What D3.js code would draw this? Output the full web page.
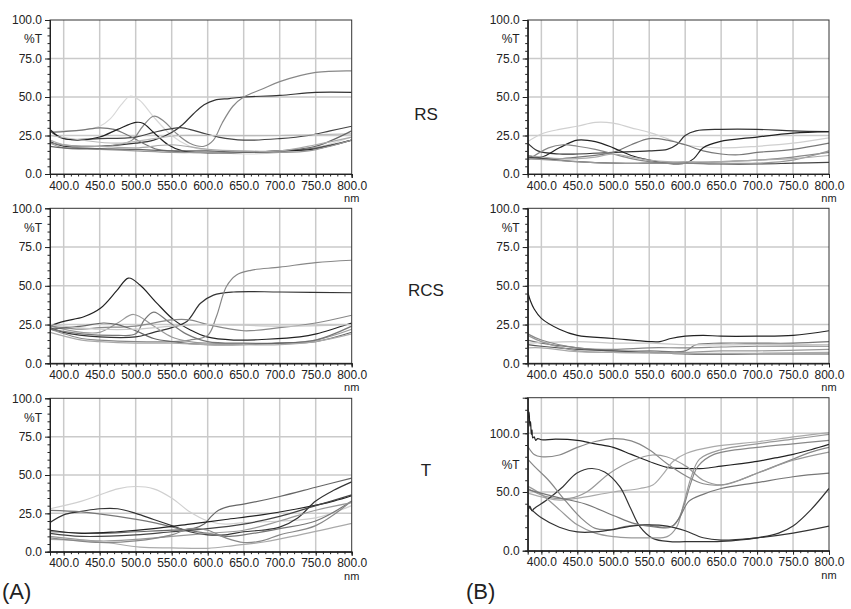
<!DOCTYPE html>
<html><head><meta charset="utf-8">
<script src="https://cdn.jsdelivr.net/npm/d3@7"></script>
<style>body{margin:0;background:#fff}svg{display:block}text{font-family:"Liberation Sans",Arial,sans-serif}</style>
</head><body>
<script>
// ---------- DATA (wavelength nm, %T) ----------
const xTicks = [400,450,500,550,600,650,700,750,800];
const yTicksStd = [0,25,50,75,100];
const yTicksTB = [0,50,100];
const rowLabels = ["RS","RCS","T"];
const panelLetters = ["(A)","(B)"];

const rsA = [
 [[381,27],[400,28],[425,28.5],[450,31],[465,36],[480,45],[492,50.5],[505,48],[525,37],[550,25],[575,18],[600,15],[650,13],[700,14],[750,17],[800,24]],
 [[381,21],[400,18],[450,18],[500,20],[525,22],[550,27],[565,32],[580,39],[595,45],[610,48],[630,49],[650,50],[700,51],[750,53],[800,53]],
 [[381,20],[425,18],[475,19],[495,22],[510,31],[525,37.5],[540,34],[555,27],[575,20],[595,18],[608,22],[620,33],[635,44],[650,50],[675,55],[700,60],[750,66],[800,67]],
 [[381,28],[400,23],[450,23],[500,24],[525,27],[550,29.5],[565,30],[590,27],[615,24],[650,22],[700,23],[740,25],[770,28],[800,31]],
 [[381,27],[425,28.5],[450,30],[470,29],[490,25],[510,20],[530,16],[550,15],[575,14],[650,14],[700,15],[750,17],[800,22]],
 [[381,29],[395,24],[420,22],[450,24],[475,29],[500,33.5],[510,33],[525,27],[545,19],[565,15],[590,14],[650,14],[700,15],[745,16],[800,22]],
 [[381,25],[425,22],[475,20],[525,23],[560,25],[600,25],[700,25],[800,26]],
 [[381,20],[400,17],[450,16],[500,15],[550,14],[600,14],[650,14],[700,14],[740,15],[800,22]],
 [[381,18],[400,17],[450,16.5],[500,16],[550,15],[600,15],[650,14],[700,15],[750,18],[800,28]],
 [[381,22],[400,19],[450,18],[500,17],[550,19],[600,16],[650,15],[700,15],[750,19],[800,24]]
];
const rsAColors = ["#d8d8d8","#333","#888","#444","#777","#222","#bbb","#999","#666","#aaa"];

const rcsA = [
 [[381,24],[400,27],[428,30],[451,35.5],[474,47],[490,55],[506,50.5],[529,39],[553,28],[576,21.5],[599,17],[636,15],[682,15.5],[728,17],[751,19],[800,26]],
 [[381,23],[400,20],[450,17],[500,17],[525,20],[550,23],[571,27],[590,38.7],[608,44],[636,46],[700,46],[800,45.5]],
 [[381,22],[425,16],[450,15],[500,14],[550,14],[575,15],[600,18],[612,30],[626,49.5],[640,57],[660,60],[700,62],[750,65],[800,66.5]],
 [[381,24],[425,20],[450,20],[475,26],[497,31.5],[525,24],[550,17],[575,14],[600,13],[700,13],[750,15],[800,22]],
 [[381,22],[425,19],[475,18],[500,19],[512,28],[525,33],[545,27],[570,19],[600,14],[650,13],[700,13],[750,15],[800,24]],
 [[381,24],[425,22],[450,23],[500,24],[550,28],[575,28],[600,25],[650,21],[700,23],[750,26],[800,31]],
 [[381,22],[425,24],[455,26],[475,25],[500,21],[525,16],[550,14],[600,12],[650,12],[700,13],[750,14],[800,20]],
 [[381,25],[450,22],[500,22],[550,24],[600,25],[700,24],[800,25]],
 [[381,20],[425,15],[450,14],[500,13],[550,13],[600,12],[650,12],[700,12],[750,14],[800,19]]
];
const rcsAColors = ["#222","#333","#888","#999","#777","#888","#666","#c8c8c8","#aaa"];

const tA = [
 [[381,28],[425,33],[450,37],[475,41],[500,42.5],[525,41],[550,35],[575,26],[600,20],[625,18],[650,19],[700,20],[750,22],[800,30]],
 [[381,19],[400,24],[420,26],[450,28],[475,28],[500,25],[525,21],[550,17],[575,13],[600,11],[625,11],[650,13],[675,14],[700,16],[725,22],[750,33],[775,40],[800,45.5]],
 [[381,27],[425,26],[475,23],[525,19],[560,15],[600,12],[625,10],[650,11],[700,15],[750,20],[800,33]],
 [[381,13],[450,12],[500,13],[550,14],[580,15],[595,18],[605,23],[615,27],[630,29.5],[650,31],[700,36],[750,42],[800,48]],
 [[381,14],[425,12],[475,13],[525,15],[575,18],[625,21],[675,24],[725,28],[775,33],[800,36.5]],
 [[381,12],[425,10],[500,11],[550,13],[600,15],[650,18],[700,23],[750,30],[800,37]],
 [[381,10],[450,7],[500,8],[550,10],[600,12],[650,14],[700,20],[750,27],[800,32]],
 [[381,8],[450,6.5],[506,3],[550,2.5],[600,2.2],[636,4],[680,6.5],[728,11],[800,18.5]],
 [[381,9],[450,6],[500,7],[550,11],[575,15],[600,14],[625,9],[650,6],[675,7],[700,11],[750,17],[800,33]]
];
const tAColors = ["#d0d0d0","#333","#777","#666","#222","#444","#999","#aaa","#888"];

const rsB = [
 [[381,21],[400,26],[425,29],[450,31],[475,33.5],[500,33],[525,30],[550,27],[575,23],[600,19],[650,17],[700,18],[750,20],[800,23.5]],
 [[381,20],[395,15],[425,13],[450,13],[500,14],[550,15],[575,16],[588,19],[600,25],[615,28],[650,29],[700,29],[750,28],[800,27.5]],
 [[381,10],[425,10],[450,11],[500,14],[525,19],[550,23],[575,22],[600,19],[625,15],[650,13],[675,12.5],[700,14],[750,16],[800,20]],
 [[381,12],[400,11],[425,17],[450,22],[475,21],[500,17],[525,12],[550,9],[575,7],[600,7],[612,10],[625,17],[648,21],[700,24],[750,26.5],[800,27.5]],
 [[381,9],[410,17],[430,19],[450,18],[475,16],[500,13],[525,10],[550,8],[575,7],[600,7],[650,8],[700,9],[750,11],[800,14]],
 [[381,11],[425,9],[450,8],[500,7],[550,7],[600,7],[650,6.5],[700,6.5],[750,7],[800,7.5]],
 [[381,10],[450,8],[500,7],[550,7],[600,7],[650,7],[700,7],[750,9],[800,15]],
 [[381,12],[425,10],[450,10],[475,11],[500,13],[525,11],[550,9],[575,8],[600,8],[650,8],[700,9],[750,10],[800,12]]
];
const rsBColors = ["#d0d0d0","#333","#777","#222","#888","#444","#999","#aaa"];

const rcsB = [
 [[381,46],[385,40],[390,35],[400,29],[425,22],[450,18],[500,16],[550,14],[565,14],[580,16],[600,17.5],[625,18],[650,17.5],[700,17.5],[750,18],[800,21]],
 [[381,15],[400,13],[450,10],[500,8],[550,8],[600,8],[615,12],[650,13],[700,13],[750,13],[800,14]],
 [[381,13],[450,14],[500,13],[550,13],[600,12],[700,12],[800,12]],
 [[381,19],[400,15],[450,10],[500,9],[550,10],[600,10],[650,10.5],[700,11],[800,11]],
 [[381,12],[400,11],[450,9],[500,8],[550,7],[600,6],[700,6],[800,6]],
 [[381,18],[400,14],[450,8],[500,7],[550,7],[600,7],[650,8],[700,8],[800,9]],
 [[381,10],[400,10],[450,7.5],[500,7],[550,6.5],[600,6.5],[700,6.5],[800,7]]
];
const rcsBColors = ["#222","#777","#c8c8c8","#888","#555","#999","#aaa"];

const tB = [
 [[381,121],[382,113],[383,118],[384,106],[385,110],[386,99],[387,103],[388,96],[390,97],[392,94],[395,95.5],[400,94.5],[420,95],[450,94],[475,91],[500,88],[525,82],[550,76],[575,71],[600,70],[625,70],[650,72],[675,74],[700,76],[725,79],[750,82],[775,86],[800,90.5]],
 [[381,89],[390,82],[400,80],[425,81.5],[450,88],[475,93],[500,95.5],[525,93.5],[550,86],[575,74],[600,64],[625,57],[650,56],[675,60],[700,66],[725,72],[750,78],[775,84],[800,88]],
 [[381,53],[407,46],[439,44.5],[463,50],[495,66],[528,77],[555,81.5],[574,80],[602,71.6],[625,60],[653,56],[704,67],[750,77],[800,84]],
 [[381,49],[425,43],[449,44.6],[500,50],[537,53],[555,56],[569,65],[583,76],[602,83],[639,88.6],[704,93],[750,97],[800,100.6]],
 [[381,33],[384,38],[387,34],[390,36],[407,43],[430,54.5],[449,66],[470,70],[488,67],[509,54.5],[523,37.5],[537,20.5],[555,10.5],[579,7.7],[600,7.7],[650,8],[700,11],[730,15],[750,21],[775,35],[800,53]],
 [[381,55],[400,48],[425,35],[450,22],[475,15],[500,12],[525,11],[550,11],[575,12],[588,20],[598,40],[608,62],[620,78],[650,86],[700,91],[750,95],[800,99]],
 [[381,78],[390,72],[410,60],[430,45],[455,28],[475,19],[495,18],[520,21],[545,22],[570,20],[585,22],[598,38],[608,58],[618,72],[640,82],[700,88],[750,91],[800,94]],
 [[381,38],[400,28],[425,20],[450,16],[475,16],[500,18],[525,21],[550,22],[575,21],[600,17],[625,11],[650,9],[700,11],[750,15],[800,21]],
 [[381,52],[425,45],[460,40],[500,30],[530,23],[560,20],[580,20],[592,28],[605,42],[625,48],[650,53],[700,58],[750,63],[800,66]]
];
const tBColors = ["#222","#888","#999","#aaa","#333","#999","#888","#333","#777"];

// ---------- LAYOUT ----------
const svg = d3.select("body").append("svg").attr("width",851).attr("height",609);
const colA = {x0:50, x1:351.7}, colB = {x0:527.7, x1:829};
const rows = [{y0:20,y1:174},{y0:208.3,y1:363.3},{y0:398.3,y1:551.7}];

const panels = [
 {col:colA,row:rows[0],series:rsA,colors:rsAColors,ymax:100,ticks:yTicksStd,grid:[25,50,75],pct:87.5,minor:5},
 {col:colA,row:rows[1],series:rcsA,colors:rcsAColors,ymax:100,ticks:yTicksStd,grid:[25,50,75],pct:87.5,minor:5},
 {col:colA,row:rows[2],series:tA,colors:tAColors,ymax:100,ticks:yTicksStd,grid:[25,50,75],pct:87.5,minor:5},
 {col:colB,row:rows[0],series:rsB,colors:rsBColors,ymax:100,ticks:yTicksStd,grid:[25,50,75],pct:87.5,minor:5},
 {col:colB,row:rows[1],series:rcsB,colors:rcsBColors,ymax:100,ticks:yTicksStd,grid:[25,50,75],pct:87.5,minor:5},
 {col:colB,row:{y0:397.7,y1:550.7},series:tB,colors:tBColors,ymax:130.3,ticks:yTicksTB,grid:[50,100],pct:73,minor:10}
];

panels.forEach((p,i)=>{
  const x = d3.scaleLinear().domain([381,800]).range([p.col.x0,p.col.x1]);
  const y = d3.scaleLinear().domain([0,p.ymax]).range([p.row.y1,p.row.y0]);
  const g = svg.append("g");
  const cid = "clip"+i;
  svg.append("clipPath").attr("id",cid).append("rect")
    .attr("x",p.col.x0).attr("y",p.row.y0).attr("width",p.col.x1-p.col.x0).attr("height",p.row.y1-p.row.y0);
  // grid
  g.selectAll(".vg").data(xTicks.filter(d=>d<800)).enter().append("line")
    .attr("x1",d=>x(d)).attr("x2",d=>x(d)).attr("y1",p.row.y0).attr("y2",p.row.y1)
    .attr("stroke","#cacaca").attr("stroke-width",1.5);
  g.selectAll(".hg").data(p.grid).enter().append("line")
    .attr("x1",p.col.x0).attr("x2",p.col.x1).attr("y1",d=>y(d)).attr("y2",d=>y(d))
    .attr("stroke","#cacaca").attr("stroke-width",1.5);
  // lines
  const line = d3.line().x(d=>x(d[0])).y(d=>y(d[1])).curve(d3.curveCatmullRom.alpha(0.5));
  g.append("g").attr("clip-path",`url(#${cid})`).selectAll("path").data(p.series).enter().append("path")
    .attr("d",line).attr("fill","none").attr("stroke",(d,k)=>p.colors[k]).attr("stroke-width",1.2);
  // frame
  g.append("rect").attr("x",p.col.x0).attr("y",p.row.y0).attr("width",p.col.x1-p.col.x0).attr("height",p.row.y1-p.row.y0)
    .attr("fill","none").attr("stroke","#333").attr("stroke-width",1);
  // axes
  const fmt = d3.format(".1f");
  const ya = g.append("g").attr("transform",`translate(${p.col.x0},0)`)
    .call(d3.axisLeft(y).tickValues(p.ticks).tickFormat(fmt).tickSize(5).tickPadding(3));
  const ym = g.append("g").attr("transform",`translate(${p.col.x0},0)`)
    .call(d3.axisLeft(y).tickValues(d3.range(0,p.ymax,p.minor)).tickFormat("").tickSize(2.5));
  const xa = g.append("g").attr("transform",`translate(0,${p.row.y1})`)
    .call(d3.axisBottom(x).tickValues(xTicks).tickFormat(fmt).tickSize(4).tickPadding(3));
  const xm = g.append("g").attr("transform",`translate(0,${p.row.y1})`)
    .call(d3.axisBottom(x).tickValues(d3.range(390,801,10)).tickFormat("").tickSize(2.5));
  [ya,ym,xa,xm].forEach(a=>{
    a.selectAll("path").attr("stroke","#222");
    a.selectAll("line").attr("stroke","#222");
    a.selectAll("text").attr("font-size","12px").attr("fill","#222")
      .attr("font-family","'Liberation Sans',Arial,sans-serif");
  });
  g.append("text").attr("x",p.col.x0-8).attr("y",y(p.pct)).attr("dy","0.35em")
    .attr("text-anchor","end").attr("font-size","12px").attr("fill","#222").text("%T");
  g.append("text").attr("x",x(800)).attr("y",p.row.y1+28)
    .attr("text-anchor","middle").attr("font-size","11px").attr("fill","#222").text("nm");
});

// row labels
const rowLabelY = [114,290,470];
rowLabels.forEach((t,i)=>{
  svg.append("text").attr("x",426).attr("y",rowLabelY[i]).attr("dy","0.35em").attr("text-anchor","middle")
    .attr("font-size","17px").attr("fill","#222").text(t);
});
panelLetters.forEach((t,i)=>{
  svg.append("text").attr("x",[2,466][i]).attr("y",599).attr("font-size","22px").attr("fill","#222").text(t);
});
</script>
</body></html>
